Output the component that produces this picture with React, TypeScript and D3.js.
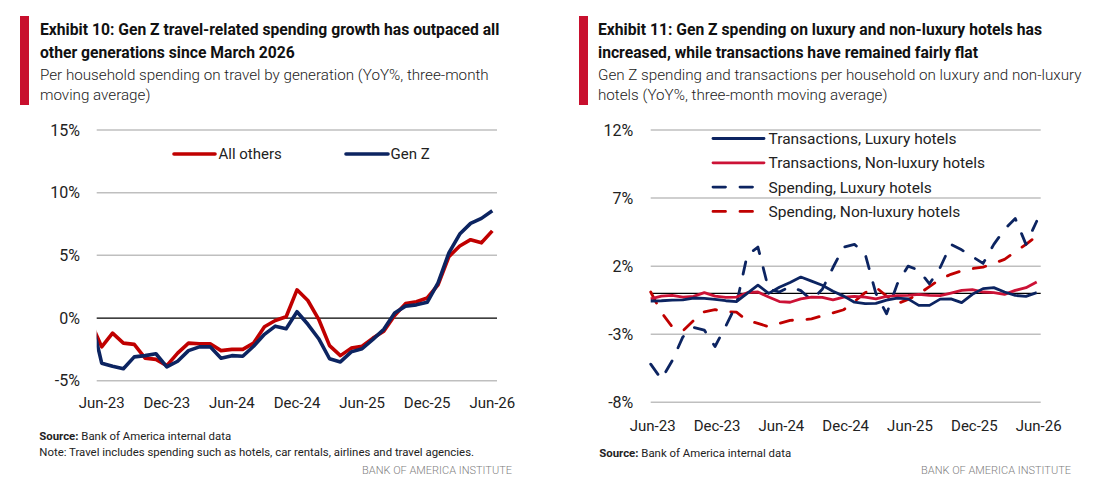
import React from "react";
import * as d3 from "d3";

// ---------- DATA ----------
const months = [
  "May-23","Jun-23","Jul-23","Aug-23","Sep-23","Oct-23","Nov-23","Dec-23",
  "Jan-24","Feb-24","Mar-24","Apr-24","May-24","Jun-24","Jul-24","Aug-24","Sep-24","Oct-24","Nov-24","Dec-24",
  "Jan-25","Feb-25","Mar-25","Apr-25","May-25","Jun-25","Jul-25","Aug-25","Sep-25","Oct-25","Nov-25","Dec-25",
  "Jan-26","Feb-26","Mar-26","Apr-26","May-26","Jun-26",
];
const tickLabels = ["Jun-23","Dec-23","Jun-24","Dec-24","Jun-25","Dec-25","Jun-26"];

// Exhibit 10 (May-23 .. Jun-26)
const allOthers = [
  -0.33, -2.3, -1.2, -2.0, -2.1, -3.2, -3.3, -3.8, -2.8, -2.0, -2.05, -2.05, -2.6, -2.5, -2.5, -2.0,
  -0.7, -0.2, 0.1, 2.25, 1.4, -0.1, -2.2, -3.0, -2.4, -2.25, -1.6, -1.05, 0.2, 1.15, 1.3, 1.6,
  2.65, 4.9, 5.75, 6.25, 6.0, 6.95,
];
const genZ = [
  0.09, -3.6, -3.85, -4.05, -3.1, -3.0, -2.85, -3.9, -3.45, -2.6, -2.3, -2.3, -3.2, -3.0, -3.05, -2.25,
  -1.3, -0.65, -0.85, 0.5, -0.5, -1.65, -3.25, -3.5, -2.7, -2.45, -1.7, -0.9, 0.4, 0.95, 1.05, 1.25,
  2.8, 5.2, 6.7, 7.55, 7.95, 8.55,
];
const leftTicks = [15, 10, 5, 0, -5];

// Exhibit 11 (Jun-23 .. Jun-26)
const transLux = [
  -0.56, -0.54, -0.49, -0.47, -0.34, -0.37, -0.44, -0.54, -0.6, 0.0, 0.6, 0.0, 0.45, 0.8, 1.2, 0.9,
  0.6, 0.15, -0.2, -0.65, -0.75, -0.73, -0.5, -0.35, -0.4, -0.88, -0.88, -0.42, -0.4, -0.68, -0.07,
  0.35, 0.42, 0.1, -0.15, -0.22, 0.05,
];
const transNonLux = [
  -0.4, -0.2, -0.15, -0.27, -0.22, 0.05, -0.2, -0.3, -0.27, 0.05, 0.1, -0.27, -0.6, -0.65, -0.4, -0.27,
  -0.3, -0.47, -0.27, -0.22, -0.27, -0.4, -0.22, -0.17, -0.15, -0.07, -0.15, -0.17, 0.02, 0.22, 0.27,
  0.1, 0.05, -0.07, 0.22, 0.42, 0.83,
];
const spendLux = [
  -5.2, -6.3, -4.95, -3.2, -2.5, -2.7, -3.9, -2.4, -0.8, 2.8, 3.4, 0.3, 0.1, 0.5, 0.2, -0.5,
  0.3, 1.9, 3.4, 3.6, 2.9, 0.0, -1.5, 0.7, 2.0, 1.7, 0.7, 1.9, 3.6, 3.2, 2.7, 2.2, 3.6, 4.7, 5.5, 3.6, 5.3,
];
const spendNonLux = [
  0.1, -1.4, -2.45, -2.75, -2.0, -1.35, -1.2, -1.35, -1.37, -2.0, -2.2, -2.45, -2.2, -1.98, -1.95, -1.87,
  -1.65, -1.44, -1.2, -0.6, 0.05, 0.45, -0.2, -0.75, -0.45, -0.05, 0.5, 1.05, 1.4, 1.65, 1.82, 1.93,
  2.2, 2.5, 3.05, 3.6, 4.2,
];
const rightTicks = [12, 7, 2, -3, -8];

const leftTitle = [
  "Exhibit 10: Gen Z travel-related spending growth has outpaced all",
  "other generations since March 2026",
];
const leftSub = [
  "Per household spending on travel by generation (YoY%, three-month",
  "moving average)",
];
const rightTitle = [
  "Exhibit 11: Gen Z spending on luxury and non-luxury hotels has",
  "increased, while transactions have remained fairly flat",
];
const rightSub = [
  "Gen Z spending and transactions per household on luxury and non-luxury",
  "hotels (YoY%, three-month moving average)",
];

// ---------- STYLE ----------
const FONT = "Roboto, 'Noto Sans', sans-serif";
const NAVY = "#0c2461";
const RED = "#c00000";
const CRIMSON = "#cc1236";
const GRID = "#bfbfbf";
const TEXT = "#222";

type Pt = { m: string; v: number };
const zipM = (ms: string[], vs: number[]): Pt[] => vs.map((v, i) => ({ m: ms[i], v }));

function Header({ x, barX, title, sub }: { x: number; barX: number; title: string[]; sub: string[] }) {
  return (
    <g>
      <rect x={barX} y={16} width={9} height={89} fill="#c8102e" />
      {title.map((t, i) => (
        <text key={"t" + i} x={x} y={35 + i * 23.3} fontSize={15.7} fontWeight={700} fill="#111">
          {t}
        </text>
      ))}
      {sub.map((t, i) => (
        <text key={"s" + i} x={x} y={80 + i * 19.5} fontSize={15.2} fontWeight={300} fill={TEXT}>
          {t}
        </text>
      ))}
    </g>
  );
}

export default function App() {
  // Left chart scales
  const lx = d3.scalePoint<string>().domain(months).range([90.85, 492.3]);
  const ly = d3.scaleLinear().domain([-5, 15]).range([380.7, 130]);
  const lline = d3
    .line<Pt>()
    .x((d) => lx(d.m) as number)
    .y((d) => ly(d.v));

  // Right chart scales
  const rMonths = months.slice(1);
  const rx = d3.scalePoint<string>().domain(rMonths).range([650.7, 1036.7]);
  const ry = d3.scaleLinear().domain([-8, 12]).range([402.3, 130]);
  const rline = d3
    .line<Pt>()
    .x((d) => rx(d.m) as number)
    .y((d) => ry(d.v));

  const dash = "12.5,14.5";

  const rightLegend = [
    { label: "Transactions, Luxury hotels", color: NAVY, dash: undefined as string | undefined },
    { label: "Transactions, Non-luxury hotels", color: CRIMSON, dash: undefined },
    { label: "Spending, Luxury hotels", color: NAVY, dash },
    { label: "Spending, Non-luxury hotels", color: RED, dash },
  ];

  return (
    <svg
      width={1094}
      height={494}
      style={{ position: "absolute", left: 0, top: 0, background: "#fff" }}
      fontFamily={FONT}
    >
      <rect width={1094} height={494} fill="#fff" />
      <defs>
        <clipPath id="lclip">
          <rect x={96.7} y={100} width={400.3} height={300} />
        </clipPath>
      </defs>

      {/* ---------- LEFT ---------- */}
      <Header x={40} barX={20} title={leftTitle} sub={leftSub} />
      {leftTicks.map((t) => (
        <g key={t}>
          <line
            x1={96.7}
            x2={497}
            y1={ly(t)}
            y2={ly(t)}
            stroke={t === 0 ? "#000" : GRID}
            strokeWidth={t === 0 ? 1.3 : 1.5}
          />
          <text x={80} y={ly(t)} dy="0.36em" textAnchor="end" fontSize={16} fill={TEXT}>
            {t + "%"}
          </text>
        </g>
      ))}
      {tickLabels.map((t) => (
        <text key={t} x={lx(t)} y={408} textAnchor="middle" fontSize={15} fill={TEXT}>
          {t}
        </text>
      ))}
      <g clipPath="url(#lclip)">
        <path
          d={lline(zipM(months, allOthers)) || ""}
          fill="none"
          stroke={RED}
          strokeWidth={3.6}
          strokeLinejoin="round"
        />
        <path
          d={lline(zipM(months, genZ)) || ""}
          fill="none"
          stroke={NAVY}
          strokeWidth={3.6}
          strokeLinejoin="round"
        />
      </g>
      {/* left legend */}
      <line x1={174} x2={215} y1={154} y2={154} stroke={RED} strokeWidth={3.6} strokeLinecap="round" />
      <text x={218.5} y={159.3} fontSize={15} fill={TEXT}>All others</text>
      <line x1={346} x2={388} y1={154} y2={154} stroke={NAVY} strokeWidth={3.6} strokeLinecap="round" />
      <text x={390.5} y={159.3} fontSize={15} fill={TEXT}>Gen Z</text>

      {/* left footer */}
      <text x={39.3} y={439.5} fontSize={11.4} fill={TEXT}>
        <tspan fontWeight={700}>Source:</tspan> Bank of America internal data
      </text>
      <text x={39.3} y={455.5} fontSize={11.4} fill={TEXT}>
        Note: Travel includes spending such as hotels, car rentals, airlines and travel agencies.
      </text>
      <text x={512} y={474} textAnchor="end" fontSize={11} fontWeight={300} fill="#7f7f7f">
        BANK OF AMERICA INSTITUTE
      </text>

      {/* ---------- RIGHT ---------- */}
      <Header x={598} barX={579} title={rightTitle} sub={rightSub} />
      {rightTicks.map((t) => (
        <g key={t}>
          <line x1={650.7} x2={1040.7} y1={ry(t)} y2={ry(t)} stroke={GRID} strokeWidth={1.5} />
          <text x={633.3} y={ry(t)} dy="0.36em" textAnchor="end" fontSize={16} fill={TEXT}>
            {t + "%"}
          </text>
        </g>
      ))}
      <line x1={650.7} x2={1040.7} y1={ry(0)} y2={ry(0)} stroke="#000" strokeWidth={1.3} />
      {tickLabels.map((t) => (
        <text key={t} x={(rx(t) as number) + 2} y={431} textAnchor="middle" fontSize={15} fill={TEXT}>
          {t}
        </text>
      ))}
      {[
        { data: spendNonLux, color: RED, dash },
        { data: spendLux, color: NAVY, dash },
        { data: transNonLux, color: CRIMSON, dash: undefined },
        { data: transLux, color: NAVY, dash: undefined },
      ].map((s, i) => (
        <path
          key={i}
          d={rline(zipM(rMonths, s.data)) || ""}
          fill="none"
          stroke={s.color}
          strokeWidth={2.8}
          strokeDasharray={s.dash}
          strokeLinecap={s.dash ? "round" : "butt"}
          strokeLinejoin="round"
        />
      ))}
      {rightLegend.map((l, i) => {
        const y = 138.5 + i * 24.3;
        return (
          <g key={l.label}>
            <line
              x1={713}
              x2={764}
              y1={y}
              y2={y}
              stroke={l.color}
              strokeWidth={2.8}
              strokeDasharray={l.dash}
              strokeLinecap="round"
            />
            <text x={768.5} y={y + 5.5} fontSize={15.5} fill={TEXT}>
              {l.label}
            </text>
          </g>
        );
      })}

      {/* right footer */}
      <text x={599.3} y={456.7} fontSize={11.4} fill={TEXT}>
        <tspan fontWeight={700}>Source:</tspan> Bank of America internal data
      </text>
      <text x={1071} y={474} textAnchor="end" fontSize={11} fontWeight={300} fill="#7f7f7f">
        BANK OF AMERICA INSTITUTE
      </text>
    </svg>
  );
}
